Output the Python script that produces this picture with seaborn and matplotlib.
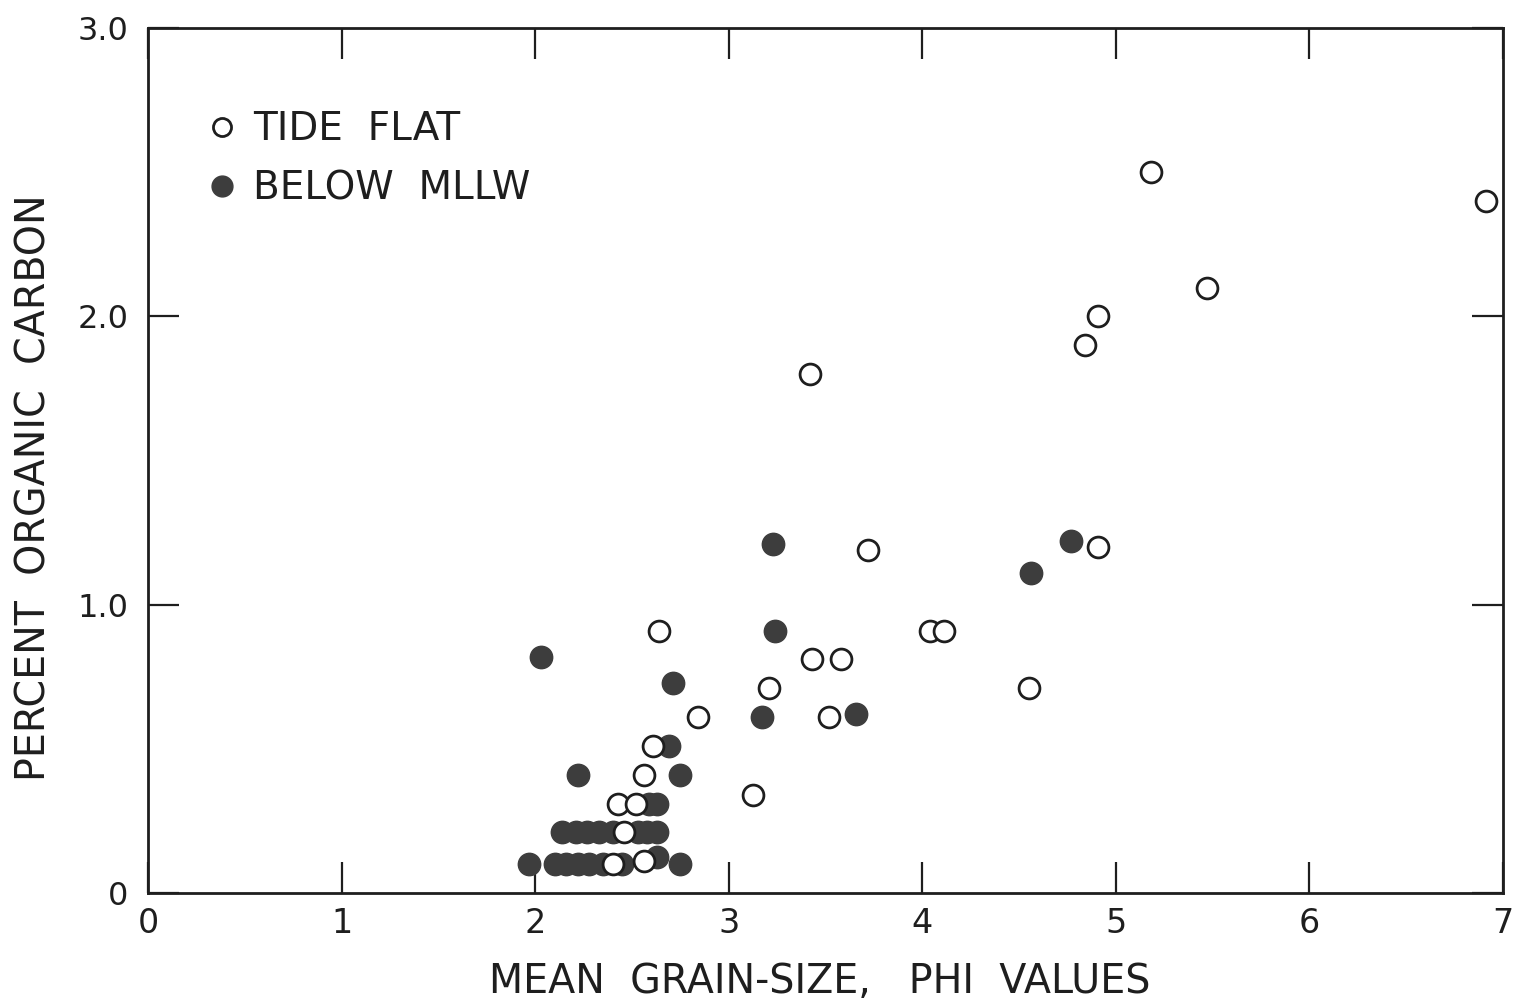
import matplotlib
matplotlib.use("Agg")
import matplotlib.pyplot as plt
from matplotlib.lines import Line2D
import seaborn as sns
import pandas as pd

# ---- data ----
tide_x = [5.18, 6.91, 5.47, 4.91, 4.84, 3.42, 3.72, 4.91, 4.04, 4.11, 3.43, 3.58,
          3.21, 3.52, 4.55, 2.84, 2.64, 3.125, 2.61, 2.56, 2.43, 2.52, 2.46, 2.40, 2.56]
tide_y = [2.50, 2.40, 2.10, 2.00, 1.90, 1.80, 1.19, 1.20, 0.91, 0.91, 0.81, 0.81,
          0.71, 0.61, 0.71, 0.61, 0.91, 0.34, 0.51, 0.41, 0.31, 0.31, 0.21, 0.10, 0.11]

below_x = [2.03, 2.71, 3.17, 3.23, 3.24, 3.66, 4.56, 4.77,
           2.69, 2.22, 2.75, 2.59, 2.63,
           2.14, 2.21, 2.27, 2.33, 2.40, 2.53, 2.58, 2.63,
           1.97, 2.10, 2.16, 2.22, 2.28, 2.35, 2.45, 2.63, 2.75]
below_y = [0.82, 0.73, 0.61, 1.21, 0.91, 0.62, 1.11, 1.22,
           0.51, 0.41, 0.41, 0.31, 0.31,
           0.21, 0.21, 0.21, 0.21, 0.21, 0.21, 0.21, 0.21,
           0.10, 0.10, 0.10, 0.10, 0.10, 0.10, 0.10, 0.125, 0.10]

x_ticks = [0, 1, 2, 3, 4, 5, 6, 7]
x_ticklabels = ["0", "1", "2", "3", "4", "5", "6", "7"]
y_ticks = [0, 1, 2, 3]
y_ticklabels = ["0", "1.0", "2.0", "3.0"]

series_labels = ["TIDE  FLAT", "BELOW  MLLW"]
x_label = "MEAN  GRAIN-SIZE,   PHI  VALUES"
y_label = "PERCENT  ORGANIC  CARBON"

# ---- style ----
sns.set_theme(style="white")
plt.rcParams["font.family"] = ["DejaVu Sans"]
ink = "#1e1e1e"
fill = "#3d3d3d"

fig = plt.figure(figsize=(15.2, 10), dpi=100)
fig.patch.set_facecolor("white")
ax = fig.add_axes([148 / 1520, 1 - 893 / 1000, (1503 - 148) / 1520, (893 - 28) / 1000])
ax.set_facecolor("white")

df_below = pd.DataFrame({"x": below_x, "y": below_y})
df_tide = pd.DataFrame({"x": tide_x, "y": tide_y})

sns.scatterplot(data=df_below, x="x", y="y", ax=ax, s=260, color=fill,
                edgecolor=fill, linewidth=1.0, zorder=3, legend=False)
sns.scatterplot(data=df_tide, x="x", y="y", ax=ax, s=225, color="white",
                edgecolor=ink, linewidth=2.0, zorder=4, legend=False)

ax.set_xlim(0, 7)
ax.set_ylim(0, 3)
ax.set_xticks(x_ticks)
ax.set_xticklabels(x_ticklabels)
ax.set_yticks(y_ticks)
ax.set_yticklabels(y_ticklabels)

for sp in ax.spines.values():
    sp.set_visible(True)
    sp.set_color(ink)
    sp.set_linewidth(2.0)

ax.tick_params(axis="both", which="major", direction="in", length=22, width=1.6,
               color=ink, labelcolor=ink, labelsize=24,
               top=True, right=True, bottom=True, left=True)
ax.tick_params(axis="x", pad=10)
ax.tick_params(axis="y", pad=14, labelsize=23)

ax.set_xlabel(x_label, fontsize=28.5, color=ink)
ax.set_ylabel(y_label, fontsize=28.5, color=ink)
ax.xaxis.set_label_coords(0.496, -0.080)
ax.yaxis.set_label_coords(-0.069, 0.469)

handles = [
    Line2D([], [], linestyle="none", marker="o", markersize=13, markerfacecolor="white",
           markeredgecolor=ink, markeredgewidth=2.0),
    Line2D([], [], linestyle="none", marker="o", markersize=15, markerfacecolor=fill,
           markeredgecolor=fill),
]
ax.legend(handles, series_labels, loc="upper left", bbox_to_anchor=(0.043, 0.905),
          frameon=False, fontsize=28, handlelength=0.8, handletextpad=0.4,
          labelspacing=0.56, borderpad=0, borderaxespad=0, labelcolor=ink)

fig.savefig("out.png", dpi=100, facecolor="white")
